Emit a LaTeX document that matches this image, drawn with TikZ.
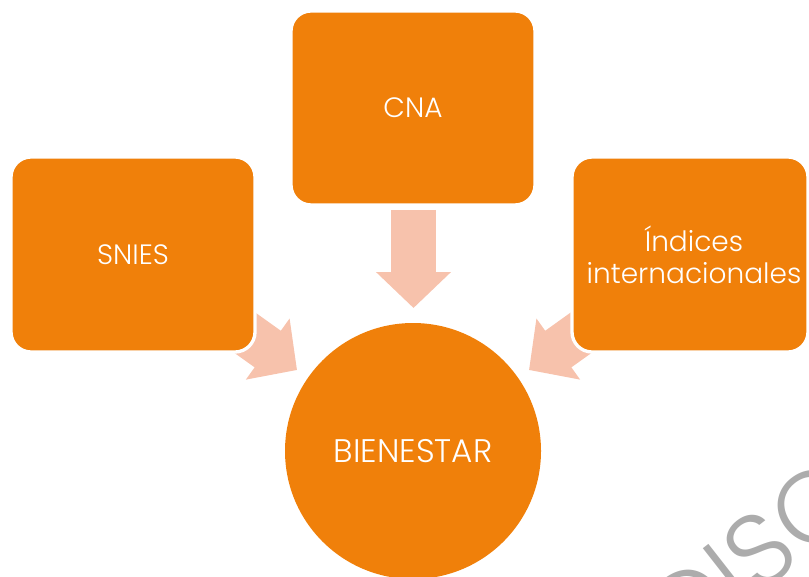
\documentclass[tikz,border=0pt]{standalone}
\usepackage{fontspec}
\setmainfont{Poppins Light}
\usetikzlibrary{arrows.meta}
\definecolor{boxorange}{RGB}{240,128,10}
\definecolor{arrowpink}{RGB}{247,194,172}
\definecolor{wmgray}{RGB}{172,172,172}
\tikzset{
  box/.style={fill=boxorange, draw=white, line width=2.5pt, rounded corners=15pt, inner sep=0pt, text=white, font=\fontsize{21}{24}\selectfont, align=center},
  bigarrow/.style={draw=arrowpink, line width=33.75pt, -{Triangle[length=27pt, width=54.75pt]}},
}
\begin{document}
\begin{tikzpicture}[x=0.75pt, y=-0.75pt]
\useasboundingbox (0,0) rectangle (809,577);
\clip (0,0) rectangle (809,577);
% watermark
\node[rotate=38, anchor=base west, inner sep=0pt, text=wmgray, font=\fontsize{76}{76}\selectfont] (wm) at (684,654) {DISCUSIÓN};
% arrows (connectors)
\coordinate (a1s) at (217.3,313.0);
\coordinate (a1e) at (297,370);
\coordinate (a2s) at (413.5,210);
\coordinate (a2e) at (413.5,308);
\coordinate (a3s) at (608.7,313.0);
\coordinate (a3e) at (529,370);
\draw[bigarrow] (a1s) -- (a1e);
\draw[bigarrow] (a2s) -- (a2e);
\draw[bigarrow] (a3s) -- (a3e);
% boxes
\node[box, minimum width=183pt, minimum height=146.25pt] (snies) at (133,254.5) {SNIES};
\node[box, minimum width=183pt, minimum height=145.5pt] (cna) at (413,108) {CNA};
\node[box, minimum width=177pt, minimum height=146.25pt] (ind) at (690,254.5) {};
\node[text=white, font=\fontsize{21}{24}\selectfont, align=center] (indt) at (694,254.5) {Índices\\internacionales};
\node[circle, fill=boxorange, minimum size=192pt, inner sep=0pt, text=white, font=\fontsize{24.5}{28}\selectfont] (bien) at (413,451) {BIENESTAR};
\end{tikzpicture}
\end{document}
